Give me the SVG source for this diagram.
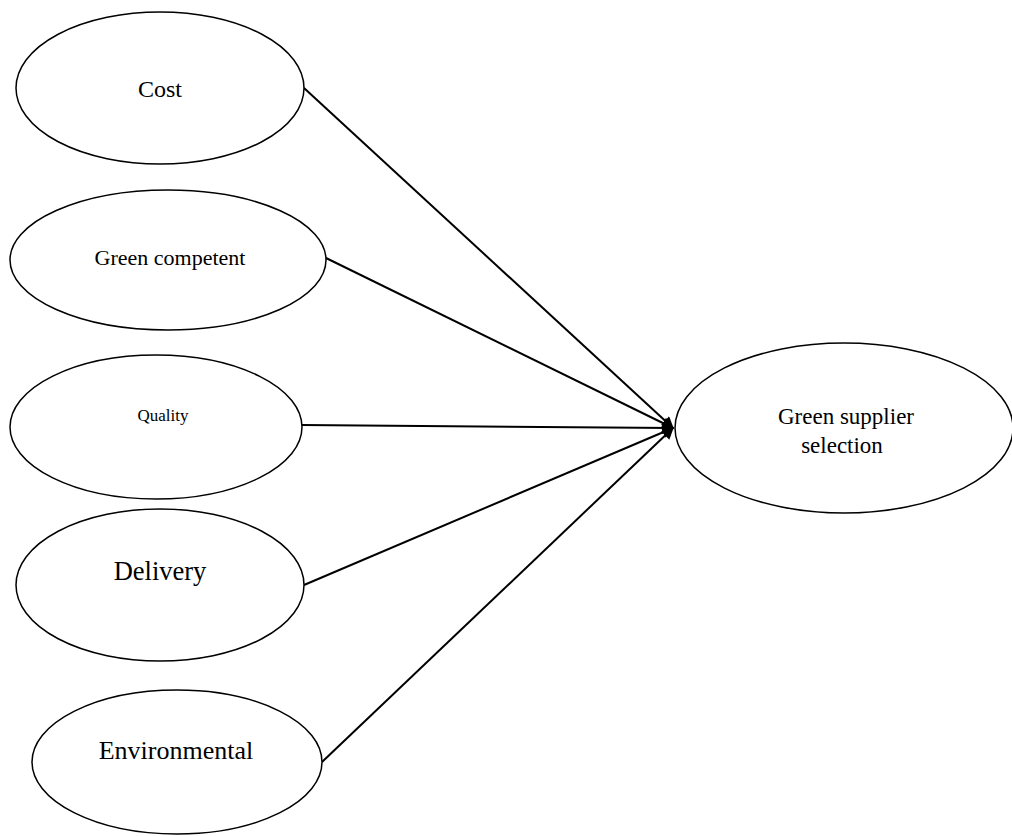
<svg xmlns="http://www.w3.org/2000/svg" width="1012" height="836" viewBox="0 0 1012 836">
<style>
.n{fill:#fff;stroke:#000;stroke-width:1.5}
.t{font-family:"Liberation Serif",serif;fill:#000;text-anchor:middle}
.c{stroke:#000;stroke-width:2;fill:none}
</style>
<defs>
<marker id="ah" viewBox="0 0 10 10" refX="9" refY="5" markerWidth="8" markerHeight="6" orient="auto" markerUnits="strokeWidth">
<path d="M0,0 L10,5 L0,10 z" fill="#000"/>
</marker>
</defs>
<rect width="1012" height="836" fill="#fff"/>
<g id="connectors">
<line class="c" x1="304" y1="88" x2="673" y2="428" marker-end="url(#ah)"/>
<line class="c" x1="326" y1="258" x2="673" y2="428" marker-end="url(#ah)"/>
<line class="c" x1="302" y1="425" x2="673" y2="428" marker-end="url(#ah)"/>
<line class="c" x1="304" y1="585" x2="673" y2="428" marker-end="url(#ah)"/>
<line class="c" x1="322" y1="762" x2="673" y2="428" marker-end="url(#ah)"/>
</g>
<g id="cost">
<ellipse class="n" cx="160" cy="88" rx="144" ry="76"/>
<text class="t" x="160" y="97" font-size="24">Cost</text>
</g>
<g id="green-competent">
<ellipse class="n" cx="168" cy="260" rx="158" ry="70"/>
<text class="t" x="170" y="265" font-size="22">Green competent</text>
</g>
<g id="quality">
<ellipse class="n" cx="156" cy="427" rx="146" ry="72"/>
<text class="t" x="163" y="421" font-size="17">Quality</text>
</g>
<g id="delivery">
<ellipse class="n" cx="160" cy="585" rx="144" ry="76"/>
<text class="t" x="160" y="580" font-size="26.5">Delivery</text>
</g>
<g id="environmental">
<ellipse class="n" cx="177" cy="762" rx="145" ry="72"/>
<text class="t" x="176" y="759" font-size="26">Environmental</text>
</g>
<g id="green-supplier-selection">
<ellipse class="n" cx="844" cy="428" rx="169" ry="85"/>
<text class="t" x="846" y="424" font-size="23">Green supplier</text>
<text class="t" x="842" y="453" font-size="23">selection</text>
</g>
</svg>
